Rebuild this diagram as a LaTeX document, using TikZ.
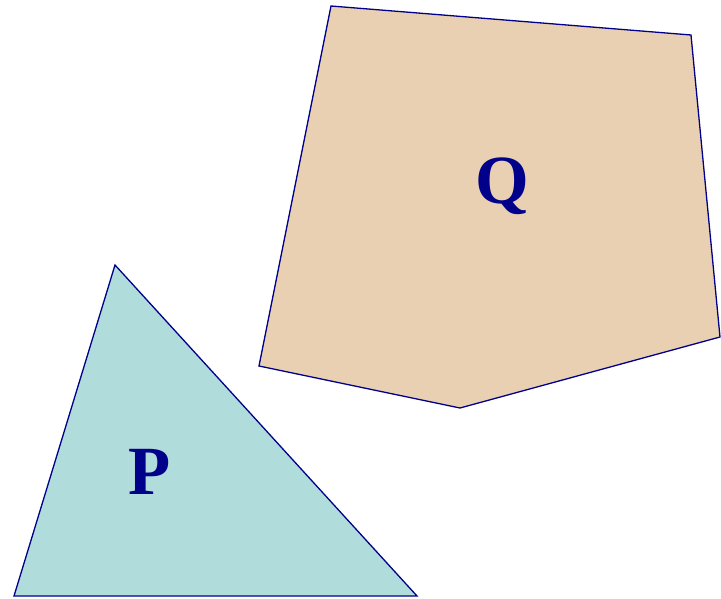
\documentclass[tikz,border=0pt]{standalone}
\usepackage{fontspec}
\setmainfont{Liberation Serif}
\definecolor{edge}{HTML}{00008B}
\definecolor{pfill}{HTML}{B0DCDC}
\definecolor{qfill}{HTML}{EAD0B3}
\begin{document}
\begin{tikzpicture}[x=1pt,y=-1pt,
  polyshape/.style={draw=edge,line width=1.3pt,line join=miter},
  lbl/.style={text=edge,font=\fontsize{69}{69}\selectfont\bfseries,inner sep=0pt,anchor=base}]
\useasboundingbox (0,0) rectangle (721,599);
\coordinate (p1) at (115,265);
\coordinate (p2) at (14,596);
\coordinate (p3) at (417,596);
\coordinate (q1) at (331,6);
\coordinate (q2) at (691,35);
\coordinate (q3) at (720,337);
\coordinate (q4) at (460,408);
\coordinate (q5) at (259,366);
\filldraw[polyshape,fill=pfill] (p1) -- (p2) -- (p3) -- cycle;
\filldraw[polyshape,fill=qfill] (q1) -- (q2) -- (q3) -- (q4) -- (q5) -- cycle;
\node[lbl] (P) at (150,494) {P};
\node[lbl] (Q) at (502,204) {Q};
\end{tikzpicture}
\end{document}
